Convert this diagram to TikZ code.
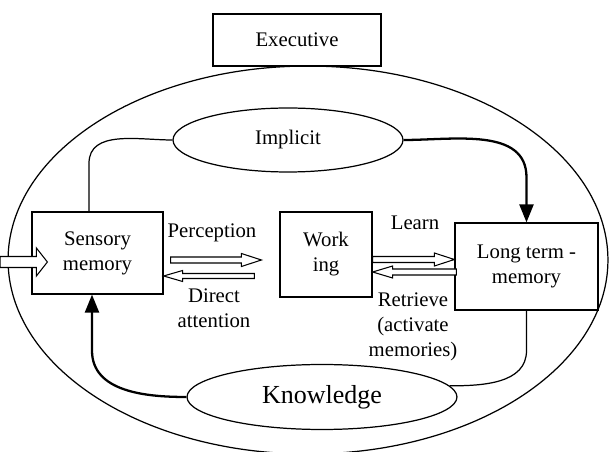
\documentclass[tikz,border=0pt]{standalone}
\usepackage{fontspec}
\setmainfont{Liberation Serif}
\usetikzlibrary{shapes.geometric,arrows.meta,calc}

\begin{document}
\begin{tikzpicture}[x=0.02cm, y=-0.02cm, line width=0.7pt,
    font=\fontsize{11.8}{14.2}\selectfont,
    box/.style = {draw, rectangle, align=center, inner sep=0},
    oval/.style = {draw, ellipse, inner sep=0},
    lbl/.style = {align=center, inner sep=0},
    link/.style = {line width=1.3pt, -{Triangle[length=3.6mm,width=2.8mm]}},
    hollow/.style n args={3}{draw, fill=white, line width=0.6pt, to path={
        ($(\tikztostart)!#1!90:(\tikztotarget)$)
        -- ($($(\tikztotarget)!#3!(\tikztostart)$)!#1!90:(\tikztotarget)$)
        -- ($($(\tikztotarget)!#3!(\tikztostart)$)!#2!90:(\tikztotarget)$)
        -- (\tikztotarget)
        -- ($($(\tikztotarget)!#3!(\tikztostart)$)!#2!-90:(\tikztotarget)$)
        -- ($($(\tikztotarget)!#3!(\tikztostart)$)!#1!-90:(\tikztotarget)$)
        -- ($(\tikztostart)!#1!-90:(\tikztotarget)$) -- cycle}}]
    \useasboundingbox (0,0) rectangle (609,452);

    % the mind and the executive on top
    \node[oval, minimum width=12cm, minimum height=7.76cm] (mind) at (308,260) {};
    \node[box, minimum width=3.36cm, minimum height=1.04cm] (exec) at (297,40) {Executive};

    % stores
    \node[oval, minimum width=4.6cm, minimum height=1.28cm] (imp) at (288,140) {Implicit};
    \node[box, minimum width=2.62cm, minimum height=1.64cm] (sens) at (97.5,253) {Sensory\\memory};
    \node[box, minimum width=1.84cm, minimum height=1.7cm] (work) at (326,254.5) {Work\\ing};
    \node[box, minimum width=2.86cm, minimum height=1.74cm] (lt) at (526.5,266.5) {Long term -\\memory};
    \node[oval, minimum width=5.4cm, minimum height=1.3cm,
          font=\fontsize{14.8}{17}\selectfont] (know) at (322,397) {Knowledge};

    % labels
    \node[lbl] (perc) at (212,233) {Perception};
    \node[lbl] (attn) at (214,308.5) {Direct\\attention};
    \node[lbl] (learn) at (415,223) {Learn};
    \node[lbl] (retr) at (413,327) {Retrieve\\(activate\\memories)};

    % curved links
    \draw (imp.west) to[out=180, in=90] ([xshift=-0.17cm, yshift=0.96cm]sens.north)
        -- ([xshift=-0.17cm]sens.north);
    \draw[link] (imp.east) to[out=0, in=90] ([yshift=0.9cm]lt.north) -- (lt.north);
    \draw (lt.south) -- ([yshift=-0.8cm]lt.south) to[out=270, in=0] (know.5);
    \draw[link] (know.west) to[out=180, in=270] ([xshift=-0.11cm, yshift=-1.12cm]sens.south)
        -- ([xshift=-0.11cm]sens.south);

    % block arrows
    \coordinate (input) at (0,262);
    \draw[hollow={0.11cm}{0.28cm}{0.22cm}] (input) to ([xshift=0.32cm, yshift=-0.18cm]sens.west);
    \draw[hollow={0.06cm}{0.13cm}{0.4cm}] ([xshift=0.14cm, yshift=-0.14cm]sens.east)
        to ([xshift=-0.36cm, yshift=-0.11cm]work.west);
    \draw[hollow={0.05cm}{0.11cm}{0.38cm}] ([xshift=-0.5cm, yshift=-0.43cm]work.west)
        to ([yshift=-0.46cm]sens.east);
    \draw[hollow={0.06cm}{0.13cm}{0.4cm}] ([yshift=-0.1cm]work.east)
        to ([yshift=0.14cm]lt.west);
    \draw[hollow={0.06cm}{0.12cm}{0.4cm}] ([xshift=0.04cm, yshift=-0.11cm]lt.west)
        to ([yshift=-0.35cm]work.east);
\end{tikzpicture}
\end{document}
